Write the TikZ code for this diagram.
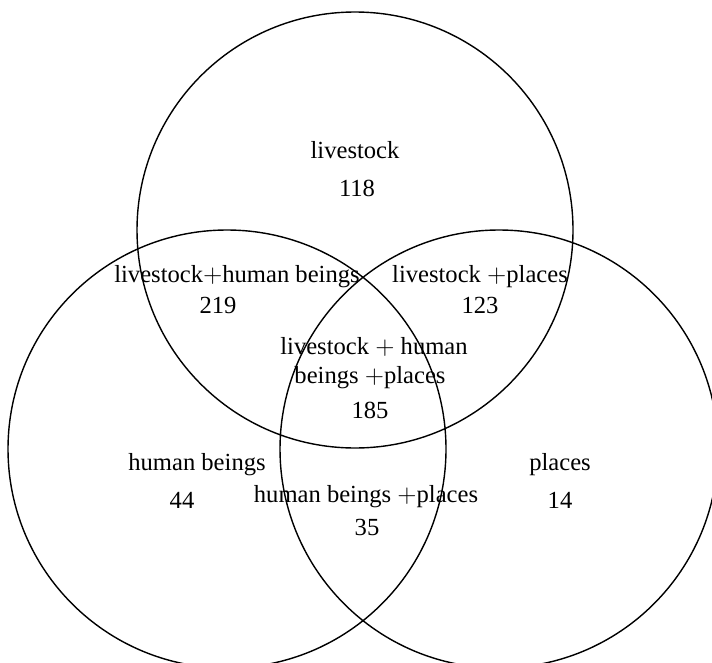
\documentclass[tikz,border=0pt]{standalone}
\usepackage{fontspec}
\setmainfont{Liberation Serif}
\begin{document}
\begin{tikzpicture}[x=0.02cm,y=-0.02cm,font=\fontsize{14}{16}\selectfont,line width=0.8pt]
\useasboundingbox(0,0)rectangle(712,662);
\clip(0,0)rectangle(712,662);
\draw(355,230)circle[radius=218] (227,449)circle[radius=219] (499,449)circle[radius=219];
\node(l)at(355,150){livestock};
\node(ln)at(357,188){118};
\node(lh)at(237,277){livestock$+$human beings};
\node(lhn)at(218,305){219};
\node(lp)at(480,277){livestock $+$places};
\node(lpn)at(480,305){123};
\node(lhp1)at(374,347){livestock $+$ human};
\node(lhp2)at(370,378){beings $+$places};
\node(lhpn)at(370,410){185};
\node(h)at(197,465){human beings};
\node(hn)at(182,500){44};
\node(hp)at(366,497){human beings $+$places};
\node(hpn)at(367,527){35};
\node(p)at(560,465){places};
\node(pn)at(560,500){14};
\end{tikzpicture}
\end{document}
